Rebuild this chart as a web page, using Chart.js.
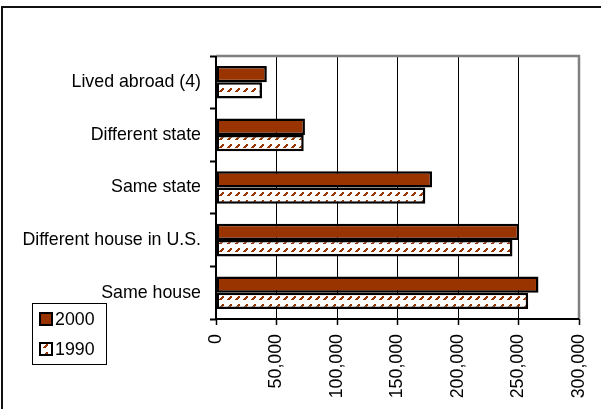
<!DOCTYPE html>
<html>
<head>
<meta charset="utf-8">
<script src="https://cdn.jsdelivr.net/npm/chart.js@4"></script>
<style>
html,body{margin:0;padding:0;background:#fff;}
#wrap{position:relative;width:601px;height:409px;}
</style>
</head>
<body>
<div id="wrap"><canvas id="c" width="601" height="409"></canvas></div>
<script>
const categories = ["Lived abroad (4)", "Different state", "Same state", "Different house in U.S.", "Same house"];
const values2000 = [42000, 73500, 178500, 250500, 266500];
const values1990 = [38000, 72500, 173000, 245000, 258000];
const seriesNames = ["2000", "1990"];
const xTicks = [0, 50000, 100000, 150000, 200000, 250000, 300000];

const BROWN = '#993300';
const FONT = 'Liberation Sans, Arial, sans-serif';
const FS = 17.8;

function makePattern() {
  const p = document.createElement('canvas');
  p.width = 8; p.height = 8;
  const g = p.getContext('2d');
  g.fillStyle = '#fff'; g.fillRect(0,0,8,8);
  g.fillStyle = BROWN;
  g.fillRect(6,0,2,2);
  g.fillRect(5,1,2,2);
  g.fillRect(4,2,2,2);
  g.fillRect(3,3,2,1);
  return document.getElementById('c').getContext('2d').createPattern(p, 'repeat');
}
const hatch = makePattern();

const decor = {
  id: 'decor',
  beforeDraw(chart) {
    const ctx = chart.ctx;
    ctx.save();
    ctx.fillStyle = '#fff';
    ctx.fillRect(0,0,chart.width,chart.height);
    ctx.strokeStyle = '#111';
    ctx.lineWidth = 2;
    ctx.beginPath();
    ctx.moveTo(2, chart.height);
    ctx.lineTo(2, 7);
    ctx.lineTo(chart.width, 7);
    ctx.stroke();
    ctx.restore();
  },
  afterDatasetsDraw(chart) {
    const ctx = chart.ctx;
    const a = chart.chartArea;
    ctx.save();
    ctx.strokeStyle = '#808080';
    ctx.lineWidth = 2.5;
    ctx.beginPath();
    ctx.moveTo(a.left, a.top);
    ctx.lineTo(a.right, a.top);
    ctx.lineTo(a.right, a.bottom);
    ctx.stroke();
    ctx.strokeStyle = '#000';
    ctx.lineWidth = 2;
    ctx.beginPath();
    ctx.moveTo(a.left, a.top);
    ctx.lineTo(a.left, a.bottom);
    ctx.lineTo(a.right, a.bottom);
    ctx.stroke();
    ctx.restore();
  },
  afterDraw(chart) {
    const ctx = chart.ctx;
    ctx.save();
    const lx = 32, ly = 303, lw = 74, lh = 61;
    ctx.fillStyle = '#fff';
    ctx.fillRect(lx, ly, lw, lh);
    ctx.strokeStyle = '#000';
    ctx.lineWidth = 1;
    ctx.strokeRect(lx + 0.5, ly + 0.5, lw, lh);
    const ds = chart.data.datasets;
    const rows = [319, 349];
    ds.forEach((d, i) => {
      const y = rows[i];
      ctx.fillStyle = d.backgroundColor;
      ctx.fillRect(40, y - 6, 12, 12);
      ctx.strokeStyle = '#000';
      ctx.lineWidth = 2;
      ctx.strokeRect(40, y - 6, 12, 12);
      ctx.fillStyle = '#000';
      ctx.font = FS + 'px ' + FONT;
      ctx.textBaseline = 'middle';
      ctx.textAlign = 'left';
      ctx.fillText(d.label, 55, y + 1);
    });
    ctx.restore();
  }
};

new Chart(document.getElementById('c'), {
  type: 'bar',
  data: {
    labels: categories,
    datasets: [
      { label: seriesNames[0], data: values2000, backgroundColor: BROWN, borderColor: '#000', borderWidth: 2.5, borderSkipped: false },
      { label: seriesNames[1], data: values1990, backgroundColor: hatch, borderColor: '#000', borderWidth: 2.5, borderSkipped: false }
    ]
  },
  options: {
    indexAxis: 'y',
    responsive: false,
    animation: false,
    devicePixelRatio: 1,
    layout: { padding: { top: 56, right: 22, left: 0, bottom: 0 } },
    datasets: { bar: { categoryPercentage: 0.62, barPercentage: 1.0 } },
    plugins: { legend: { display: false }, tooltip: { enabled: false } },
    scales: {
      x: {
        min: 0, max: 300000,
        afterBuildTicks(s) { s.ticks = xTicks.map(v => ({ value: v })); },
        afterFit(s) { s.height = 90; s.paddingRight = 0; s.paddingLeft = 0; },
        border: { display: false },
        grid: { color: '#000', lineWidth: 1, tickLength: 6, drawTicks: true, tickColor: '#000', tickWidth: 1.5 },
        ticks: {
          maxRotation: 90, minRotation: 90, padding: 9,
          color: '#000', font: { family: FONT, size: FS },
          callback: v => Number(v).toLocaleString('en-US')
        }
      },
      y: {
        afterFit(s) { s.width = 216; s.paddingTop = 0; s.paddingBottom = 0; },
        border: { display: false },
        grid: { drawOnChartArea: false, drawTicks: true, tickLength: 6, tickColor: '#000', tickWidth: 2, offset: true },
        ticks: { padding: 9, color: '#000', font: { family: FONT, size: FS } }
      }
    }
  },
  plugins: [decor]
});
</script>
</body>
</html>
